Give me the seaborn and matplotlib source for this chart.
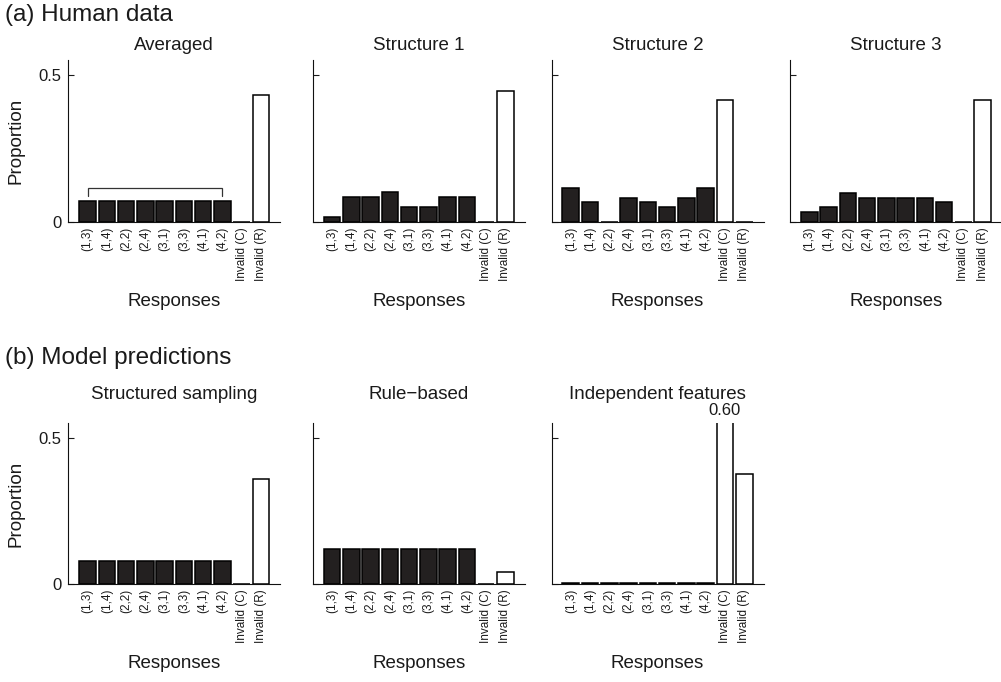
import matplotlib

matplotlib.use("Agg")
import matplotlib.pyplot as plt
import pandas as pd
import seaborn as sns

# Response categories shared by every panel
responses = ["(1,3)", "(1,4)", "(2,2)", "(2,4)", "(3,1)", "(3,3)", "(4,1)", "(4,2)",
             "Invalid (C)", "Invalid (R)"]

# (a) Human data
averaged = [0.072, 0.072, 0.072, 0.072, 0.072, 0.072, 0.072, 0.072, 0.0, 0.43]
structure1 = [0.017, 0.085, 0.085, 0.102, 0.051, 0.051, 0.085, 0.085, 0.0, 0.445]
structure2 = [0.117, 0.067, 0.0, 0.083, 0.067, 0.05, 0.083, 0.117, 0.415, 0.0]
structure3 = [0.033, 0.05, 0.1, 0.083, 0.083, 0.083, 0.083, 0.067, 0.0, 0.415]

# (b) Model predictions
structured_sampling = [0.08, 0.08, 0.08, 0.08, 0.08, 0.08, 0.08, 0.08, 0.0, 0.36]
rule_based = [0.12, 0.12, 0.12, 0.12, 0.12, 0.12, 0.12, 0.12, 0.0, 0.04]
independent = [0.003, 0.003, 0.003, 0.003, 0.003, 0.003, 0.003, 0.003, 0.60, 0.375]

top_titles = ["Averaged", "Structure 1", "Structure 2", "Structure 3"]
bottom_titles = ["Structured sampling", "Rule\u2212based", "Independent features"]

YMAX = 0.55
W, H = 1001, 682
DARK = "#231f20"
TEXT = "#1a1a1a"

sns.set_theme(style="white")
plt.rcParams["font.family"] = ["Liberation Sans", "DejaVu Sans"]
plt.rcParams["text.color"] = TEXT
plt.rcParams["axes.labelcolor"] = TEXT
plt.rcParams["xtick.color"] = TEXT
plt.rcParams["ytick.color"] = TEXT

palette = {r: ("white" if r.startswith("Invalid") else DARK) for r in responses}


def draw_panel(ax, values, title, first_col, title_pad):
    df = pd.DataFrame({"response": responses, "proportion": values})
    sns.barplot(
        data=df, x="response", y="proportion", hue="response", order=responses,
        hue_order=responses, palette=palette, legend=False, width=0.86,
        edgecolor="black", linewidth=1.1, ax=ax,
    )
    # draw bars above the spine so zero-height bars show as a dark stroke
    for patch in ax.patches:
        patch.set_zorder(3)
    ax.set_xlim(-1, len(responses))
    ax.set_ylim(0, YMAX)
    ax.set_yticks([0, 0.5])
    ax.set_yticklabels(["0", "0.5"])
    ax.tick_params(axis="y", direction="in", length=4, width=0.8, labelsize=12, pad=5,
                   left=True, labelleft=first_col)
    ax.tick_params(axis="x", length=0, labelsize=8.5, pad=3.5, rotation=90)
    for side in ["top", "right"]:
        ax.spines[side].set_visible(False)
    for side in ["left", "bottom"]:
        ax.spines[side].set_color("#111111")
        ax.spines[side].set_linewidth(0.8)
    ax.set_title(title, fontsize=13.5, pad=title_pad)
    ax.set_xlabel("Responses", fontsize=13.5, labelpad=9)
    if first_col:
        ax.set_ylabel("Proportion", fontsize=13.5, labelpad=10)
    else:
        ax.set_ylabel("")


fig = plt.figure(figsize=(W / 100, H / 100), dpi=100)

lefts = [68.3, 312.7, 551.5, 790]
ax_w = 212
top_row = [averaged, structure1, structure2, structure3]
bottom_row = [structured_sampling, rule_based, independent]

axes_top = []
for i, vals in enumerate(top_row):
    ax = fig.add_axes([lefts[i] / W, (H - 222) / H, ax_w / W, 162 / H])
    draw_panel(ax, vals, top_titles[i], i == 0, 7)
    axes_top.append(ax)

axes_bottom = []
for i, vals in enumerate(bottom_row):
    ax = fig.add_axes([lefts[i] / W, (H - 584) / H, ax_w / W, 161 / H])
    draw_panel(ax, vals, bottom_titles[i], i == 0, 17)
    axes_bottom.append(ax)

# bracket over the eight valid responses in the averaged panel
valid_top = max(averaged[:8])
ax = axes_top[0]
ax.plot([0, 0, 7, 7], [valid_top + 0.015, valid_top + 0.045, valid_top + 0.045, valid_top + 0.015],
        color="#333333", lw=0.9, solid_joinstyle="miter")

# value label for the clipped bar
ax = axes_bottom[2]
idx = responses.index("Invalid (C)")
ax.annotate(f"{independent[idx]:.2f}", xy=(idx, YMAX), xytext=(0, 6),
            textcoords="offset points", ha="center", va="baseline", fontsize=12,
            annotation_clip=False)

fig.text(5 / W, 1 - 15 / H, "(a) Human data", fontsize=17.5, va="center", ha="left")
fig.text(5 / W, 1 - 358 / H, "(b) Model predictions", fontsize=17.5, va="center", ha="left")

fig.savefig("out.png", dpi=100)
